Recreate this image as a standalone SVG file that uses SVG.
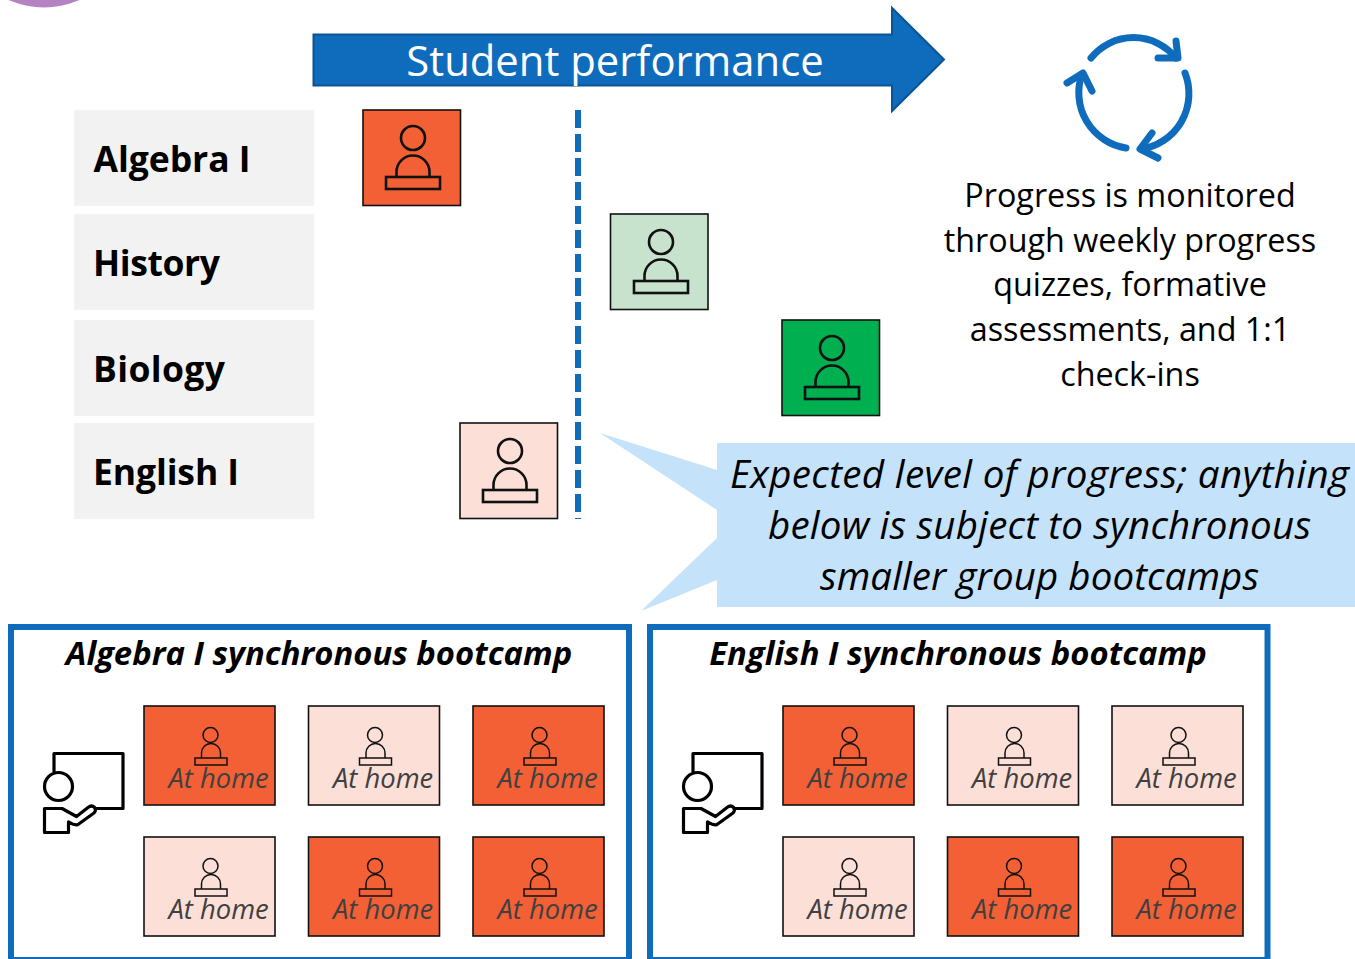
<svg xmlns="http://www.w3.org/2000/svg" xmlns:xlink="http://www.w3.org/1999/xlink" width="1355" height="959" viewBox="0 0 1355 959">
<style>
text{font-family:"Open Sans","Noto Sans","Liberation Sans",sans-serif}
.subj{fill:#f2f2f2}
.subjt{font-size:35.500px;font-weight:700;fill:#000}
.big{stroke:#111;stroke-width:1.6}
.ic{fill:none;stroke:#111;stroke-width:2.6}
.ics{fill:none;stroke:#111;stroke-width:1.5}
.home{font-size:27.400px;font-style:italic;fill:#404040}
.panel{fill:#fff;stroke:#0f6cbd;stroke-width:6}
.ptitle{font-size:32.800px;font-weight:700;font-style:italic;fill:#000;text-anchor:middle}
.body{font-size:32.300px;fill:#000;text-anchor:middle}
.call{font-size:38.500px;font-style:italic;fill:#000;text-anchor:middle}
.red{fill:#f46036}.pale{fill:#fcdfd7}
.cyc{fill:none;stroke:#0f6cbd;stroke-width:7;stroke-linecap:round;stroke-linejoin:round}
.pres{fill:none;stroke:#000;stroke-width:3.2;stroke-linejoin:round}
</style>
<defs>
<g id="bigIcon"><circle cx="50" cy="28" r="12" class="ic"/><path d="M33.500 67V62A16.500 16.500 0 0 1 66.500 62V67" class="ic"/><rect x="23" y="67" width="54" height="12" class="ic"/></g>
<g id="smallIcon"><circle cx="66.500" cy="29" r="7.500" class="ics"/><path d="M57.500 52V47A9.500 9.500 0 0 1 76.500 47V52" class="ics"/><rect x="51" y="52" width="32" height="7" class="ics"/></g>
<g id="pres"><path d="M54 772V753.500H123V808.500H96" class="pres"/><circle cx="58.500" cy="786.500" r="14" class="pres"/><path d="M44.500 808.500H62L76.500 816.500L88 807.500C93 803.500 98 809 94 813L78 824.500C75 826 72 824 68.500 822V832.500H44.500Z" class="pres"/></g>
</defs>
<g id="topCircle"><circle cx="44" cy="-80" r="87.500" fill="#b583c1"/></g>
<g id="connectors">
<path d="M578 110V519" fill="none" stroke="#0f6cbd" stroke-width="6" stroke-dasharray="18 6"/>
</g>
<g id="performance">
<path d="M313.500 34.500H892V8L944 59.500L892 111V85.500H313.500Z" fill="#0f6cbd" stroke="#0a5494" stroke-width="2"/>
<text x="615" y="76" font-size="41.800" fill="#fff" text-anchor="middle">Student performance</text>
</g>
<g id="subject-algebra"><rect class="subj" x="74" y="110" width="240" height="96"/><text class="subjt" x="93.500" y="172" textLength="157">Algebra I</text></g>
<g id="subject-history"><rect class="subj" x="74" y="214" width="240" height="96"/><text class="subjt" x="93" y="276" textLength="127">History</text></g>
<g id="subject-biology"><rect class="subj" x="74" y="320" width="240" height="96"/><text class="subjt" x="93" y="382" textLength="132">Biology</text></g>
<g id="subject-english"><rect class="subj" x="74" y="423" width="240" height="96"/><text class="subjt" x="93" y="485" textLength="146">English I</text></g>
<g id="student-algebra"><rect class="big" x="363" y="110" width="97.500" height="95.500" fill="#f46036"/><use xlink:href="#bigIcon" x="363" y="110"/></g>
<g id="student-history"><rect class="big" x="610.500" y="214" width="97.500" height="95.500" fill="#c8e3cd"/><use xlink:href="#bigIcon" x="611" y="214"/></g>
<g id="student-biology"><rect class="big" x="782" y="320" width="97.500" height="95.500" fill="#00b050"/><use xlink:href="#bigIcon" x="782" y="320"/></g>
<g id="student-english"><rect class="big" x="460" y="423" width="97.500" height="95.500" fill="#fcdfd7"/><use xlink:href="#bigIcon" x="460" y="423"/></g>
<g id="cycle">
<path d="M1091 58A54.500 54.500 0 0 1 1176 58" class="cyc"/><path d="M1176 41L1178 58H1158" class="cyc"/>
<path d="M1185 73A56 56 0 0 1 1141 149" class="cyc"/><path d="M1152 133L1140 149L1158 158" class="cyc"/>
<path d="M1126 148A56 56 0 0 1 1082 74" class="cyc"/><path d="M1067 83L1083 73L1092 91" class="cyc"/>
</g>
<g id="progress-note">
<text class="body" x="1130" y="207">Progress is monitored</text>
<text class="body" x="1130" y="252">through weekly progress</text>
<text class="body" x="1130" y="296">quizzes, formative</text>
<text class="body" x="1130" y="341">assessments, and 1:1</text>
<text class="body" x="1130" y="386">check-ins</text>
</g>
<g id="callout">
<path d="M717 443H1355V607H717V538L641 611L717 580V510L600 433L717 470Z" fill="#c5e2fb"/>
<text class="call" x="1039.500" y="488" textLength="619">Expected level of progress; anything</text>
<text class="call" x="1039.500" y="539" textLength="543">below is subject to synchronous</text>
<text class="call" x="1039.500" y="590" textLength="439">smaller group bootcamps</text>
</g>
<g id="panel-algebra">
<rect class="panel" x="11" y="627" width="618" height="333"/>
<text class="ptitle" x="319" y="665">Algebra I synchronous bootcamp</text>
<use xlink:href="#pres"/>
</g>
<g id="panel-english">
<rect class="panel" x="650" y="627" width="617.500" height="333"/>
<text class="ptitle" x="958" y="665">English I synchronous bootcamp</text>
<use xlink:href="#pres" x="639"/>
</g>
<g id="a1"><rect class="big red" x="144" y="706" width="131" height="99"/><use xlink:href="#smallIcon" x="144" y="706"/><text class="home" x="168.500" y="788">At home</text></g>
<g id="a2"><rect class="big pale" x="308.500" y="706" width="131" height="99"/><use xlink:href="#smallIcon" x="308.500" y="706"/><text class="home" x="333" y="788">At home</text></g>
<g id="a3"><rect class="big red" x="473" y="706" width="131" height="99"/><use xlink:href="#smallIcon" x="473" y="706"/><text class="home" x="497.500" y="788">At home</text></g>
<g id="a4"><rect class="big pale" x="144" y="837" width="131" height="99"/><use xlink:href="#smallIcon" x="144" y="837"/><text class="home" x="168.500" y="919">At home</text></g>
<g id="a5"><rect class="big red" x="308.500" y="837" width="131" height="99"/><use xlink:href="#smallIcon" x="308.500" y="837"/><text class="home" x="333" y="919">At home</text></g>
<g id="a6"><rect class="big red" x="473" y="837" width="131" height="99"/><use xlink:href="#smallIcon" x="473" y="837"/><text class="home" x="497.500" y="919">At home</text></g>
<g id="e1"><rect class="big red" x="783" y="706" width="131" height="99"/><use xlink:href="#smallIcon" x="783" y="706"/><text class="home" x="807.500" y="788">At home</text></g>
<g id="e2"><rect class="big pale" x="947.500" y="706" width="131" height="99"/><use xlink:href="#smallIcon" x="947.500" y="706"/><text class="home" x="972" y="788">At home</text></g>
<g id="e3"><rect class="big pale" x="1112" y="706" width="131" height="99"/><use xlink:href="#smallIcon" x="1112" y="706"/><text class="home" x="1136.500" y="788">At home</text></g>
<g id="e4"><rect class="big pale" x="783" y="837" width="131" height="99"/><use xlink:href="#smallIcon" x="783" y="837"/><text class="home" x="807.500" y="919">At home</text></g>
<g id="e5"><rect class="big red" x="947.500" y="837" width="131" height="99"/><use xlink:href="#smallIcon" x="947.500" y="837"/><text class="home" x="972" y="919">At home</text></g>
<g id="e6"><rect class="big red" x="1112" y="837" width="131" height="99"/><use xlink:href="#smallIcon" x="1112" y="837"/><text class="home" x="1136.500" y="919">At home</text></g>
</svg>
